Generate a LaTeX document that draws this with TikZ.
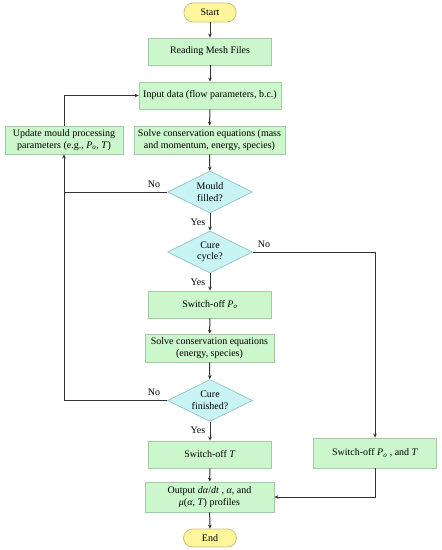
\documentclass[tikz,border=0pt]{standalone}
\usepackage{fontspec}
\setmainfont{Liberation Serif}
\usetikzlibrary{shapes.geometric,arrows.meta}
\definecolor{gfill}{HTML}{CCF7CC}
\definecolor{gdraw}{HTML}{A2CCA2}
\definecolor{cfill}{HTML}{C8F4F6}
\definecolor{cdraw}{HTML}{9CC8CC}
\definecolor{yfill}{HTML}{FFF69C}
\definecolor{ydraw}{HTML}{C9C287}
\definecolor{lcol}{HTML}{333333}
\tikzset{
  proc/.style={draw=gdraw,fill=gfill,line width=0.8pt,inner sep=0pt,align=center,font=\fontsize{10}{11.5}\selectfont},
  term/.style={draw=ydraw,fill=yfill,line width=0.8pt,rounded corners=9pt,inner sep=0pt,align=center,font=\fontsize{10}{11.5}\selectfont},
  dec/.style={diamond,draw=cdraw,fill=cfill,line width=0.8pt,inner sep=0pt,aspect=2,minimum width=85pt,minimum height=42pt,align=center,font=\fontsize{10}{11.5}\selectfont},
  conn/.style={draw=lcol,line width=1pt,-{Stealth[length=4pt,width=3.6pt]}},
  plain/.style={draw=lcol,line width=1pt},
  lab/.style={font=\fontsize{10}{12}\selectfont,inner sep=0pt}
}
\begin{document}
\begin{tikzpicture}[x=1pt,y=-1pt]
\useasboundingbox (0,0) rectangle (442,550);
\node[term,minimum width=52pt,minimum height=19pt] (start) at (210,12.5) {Start};
\node[proc,minimum width=123pt,minimum height=27pt] (read) at (210,51.5) {Reading Mesh Files};
\node[proc,minimum width=142pt,minimum height=27pt] (input) at (210,95.5) {Input data (flow parameters, b.c.)};
\node[proc,minimum width=151pt,minimum height=28pt] (solve1) at (209.5,140) {Solve conservation equations (mass\\and momentum, energy, species)};
\node[proc,minimum width=118pt,minimum height=28pt] (update) at (64,140) {Update mould processing\\parameters (e.g., \textit{P}\textsubscript{\textit{o}}, \textit{T})};
\node[dec] (mould) at (210,192) {Mould\\filled?};
\node[dec] (cure) at (210,252) {Cure\\cycle?};
\node[proc,minimum width=123pt,minimum height=27pt] (swpo) at (210,304.5) {Switch-off \textit{P}\textsubscript{\textit{o}}};
\node[proc,minimum width=129pt,minimum height=28pt] (solve2) at (209.5,348) {Solve conservation equations\\(energy, species)};
\node[dec] (fin) at (210,400.5) {Cure\\finished?};
\node[proc,minimum width=123pt,minimum height=27pt] (swt) at (210,454.5) {Switch-off \textit{T}};
\node[proc,minimum width=123pt,minimum height=30pt] (swpt) at (375,453) {Switch-off \textit{P}\textsubscript{\textit{o}} , and \textit{T}};
\node[proc,minimum width=129pt,minimum height=30pt] (out) at (209.5,497) {Output \textit{dα}/\textit{dt} , \textit{α}, and\\\textit{μ}(\textit{α}, \textit{T}) profiles};
\node[term,minimum width=53pt,minimum height=18pt] (end) at (210,538) {End};
\coordinate (j) at (update.south |- mould.west);
\path[conn] (start) -- (read);
\path[conn] (read) -- (input);
\path[conn] (input) -- (solve1);
\path[conn] (solve1) -- (mould);
\path[conn] (mould) -- (cure);
\path[conn] (cure) -- (swpo);
\path[conn] (swpo) -- (solve2);
\path[conn] (solve2) -- (fin);
\path[conn] (fin) -- (swt);
\path[conn] (swt) -- (out);
\path[conn] (out) -- (end);
\path[conn] (mould.west) -| (update.south);
\path[plain] (fin.west) -| (j);
\path[conn] (update.north) |- (input.west);
\path[conn] (cure.east) -| (swpt.north);
\path[conn] (swpt.south) |- (out.east);
\node[lab] (l1) at (154,184) {No};
\node[lab] (l2) at (198,222) {Yes};
\node[lab] (l3) at (264,244) {No};
\node[lab] (l4) at (198,282) {Yes};
\node[lab] (l5) at (154,392) {No};
\node[lab] (l6) at (198,430) {Yes};
\end{tikzpicture}
\end{document}
